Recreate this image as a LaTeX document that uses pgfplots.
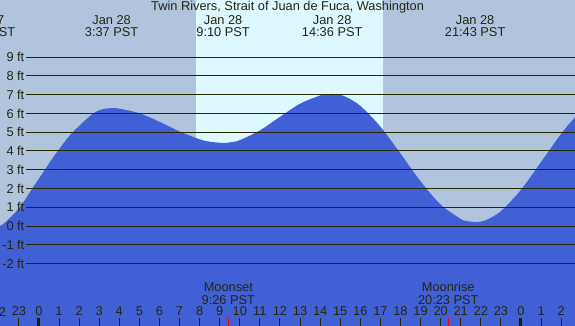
\documentclass[border=0pt]{standalone}
\usepackage{pgfplots}
\pgfplotsset{compat=1.18}
\usepackage{fontspec}
\setmainfont{Liberation Sans}
\definecolor{bg}{RGB}{176,196,222}
\definecolor{day}{RGB}{222,248,255}
\definecolor{tide}{RGB}{65,96,214}
\definecolor{ln}{RGB}{40,40,0}
\definecolor{txt}{RGB}{36,36,16}
\newcommand\f{\fontsize{12.8pt}{14pt}\selectfont}
\begin{document}
\begin{tikzpicture}
\path[use as bounding box] (0,0) rectangle (575pt,326pt);
\clip (0,0) rectangle (575pt,326pt);
\begin{axis}[at={(0,0)}, anchor=south west, scale only axis,
  width=575pt, height=326pt,
  xmin=-1.94, xmax=26.69, ymin=-5.33, ymax=12.05,
  axis line style={draw=none}, axis background/.style={fill=bg},
  axis on top, ytick=\empty,
  xtick={-1,0,...,26},
  xticklabels={23,0,1,2,3,4,5,6,7,8,9,10,11,12,13,14,15,16,17,18,19,20,21,22,23,0,1,2},
  xtick pos=left, xticklabel pos=left,
  tick align=inside, major tick length=8pt,
  tick style={ln, line width=1pt},
  xticklabel style={anchor=base, yshift=10pt, font=\f, text=txt},
]
% daylight band
\addplot[draw=none, fill=day] coordinates {(7.82,-6) (7.82,13) (17.13,13) (17.13,-6)} -- cycle;
% tide curve
\addplot[draw=none, fill=tide, smooth] coordinates {
(-2.7,-0.25) (-1.94,0.0) (-1.5,0.38) (-0.95,1.0) (-0.3,2.05) (0.2,2.85)
(0.9,3.95) (1.64,4.95) (2.64,5.95) (3.2,6.24) (3.617,6.28) (4,6.258)
(5,6.011) (6,5.558) (7,5.043) (8,4.625) (8.5,4.495) (9.167,4.43) (9.6,4.471)
(10,4.579) (11,5.096) (12,5.823) (13,6.520) (14,6.962) (14.3,7.02) (14.6,7.04)
(15,6.987) (15.3,6.878) (16,6.408) (17,5.299) (18,3.864) (19,2.385) (20,1.143)
(21,0.379) (21.3,0.268) (21.717,0.21) (22,0.239) (22.3,0.333) (23,0.791)
(24,1.931) (25,3.415) (26,4.918) (26.69,5.794) (27,6.11)
} \closedcycle;
\addplot[draw=none, fill=tide] coordinates {(-3,-6) (28,-6) (28,0.02) (-3,0.02)} -- cycle;
% level lines
\pgfplotsinvokeforeach{-2,...,9}{
  \addplot[ln, line width=1pt] coordinates {(-0.65,#1) (27,#1)};
  \node[anchor=east, font=\f, text=txt, inner sep=0pt] at (axis cs:-0.72,#1) {#1 ft};
}
% tide labels
\node[anchor=base, font=\f, text=txt] at (axis cs:12.38,11.5) {Twin Rivers, Strait of Juan de Fuca, Washington};
\node[anchor=base, font=\f, text=txt] at (axis cs:-2.69,10.77) {Jan 27};
\node[anchor=base, font=\f, text=txt] at (axis cs:-2.69,10.13) {21:19 PST};
\node[anchor=base, font=\f, text=txt] at (axis cs:3.617,10.77) {Jan 28};
\node[anchor=base, font=\f, text=txt] at (axis cs:3.617,10.13) {3:37 PST};
\node[anchor=base, font=\f, text=txt] at (axis cs:9.167,10.77) {Jan 28};
\node[anchor=base, font=\f, text=txt] at (axis cs:9.167,10.13) {9:10 PST};
\node[anchor=base, font=\f, text=txt] at (axis cs:14.6,10.77) {Jan 28};
\node[anchor=base, font=\f, text=txt] at (axis cs:14.6,10.13) {14:36 PST};
\node[anchor=base, font=\f, text=txt] at (axis cs:21.717,10.77) {Jan 28};
\node[anchor=base, font=\f, text=txt] at (axis cs:21.717,10.13) {21:43 PST};
% moon
\node[anchor=base, font=\f, text=txt] at (axis cs:9.43,-3.5) {Moonset};
\node[anchor=base, font=\f, text=txt] at (axis cs:9.43,-4.16) {9:26 PST};
\node[anchor=base, font=\f, text=txt] at (axis cs:20.38,-3.5) {Moonrise};
\node[anchor=base, font=\f, text=txt] at (axis cs:20.38,-4.16) {20:23 PST};
\node[anchor=base, font=\f, text=txt] at (axis cs:-2,-4.8) {22};
% special ticks
\addplot[red, line width=1pt] coordinates {(9.43,-5.4) (9.43,-4.9)};
\addplot[red, line width=1pt] coordinates {(20.38,-5.4) (20.38,-4.9)};
\addplot[ln!60!black, line width=3pt] coordinates {(0,-5.4) (0,-4.9)};
\addplot[ln!60!black, line width=3pt] coordinates {(24,-5.4) (24,-4.9)};
\end{axis}
\end{tikzpicture}
\end{document}
